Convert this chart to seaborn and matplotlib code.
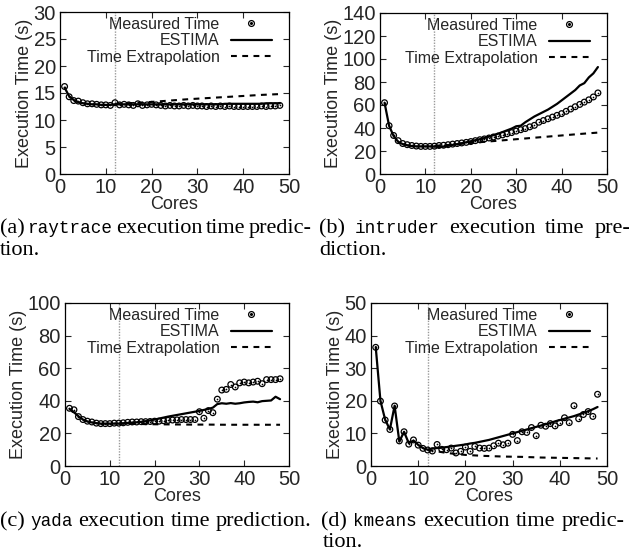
import numpy as np
import pandas as pd
import matplotlib
matplotlib.use("Agg")
import matplotlib.pyplot as plt
import matplotlib.transforms as mtransforms
from matplotlib.lines import Line2D
from matplotlib.legend_handler import HandlerTuple
import seaborn as sns

# ---- data ----
cores = list(range(1, 49))
extrap_cores = [12, 16, 20, 24, 28, 32, 36, 40, 44, 48]

raytrace_measured = [16.2, 14.3, 13.6, 13.5, 13.2, 13.0, 13.0, 12.9, 12.8, 12.8, 12.7, 13.2,
                     12.8, 12.9, 12.8, 12.7, 13.0, 12.7, 12.8, 12.9, 12.8, 12.7, 12.6, 12.7,
                     12.6, 12.6, 12.7, 12.6, 12.7, 12.6, 12.6, 12.5, 12.6, 12.5, 12.6, 12.5,
                     12.6, 12.5, 12.5, 12.5, 12.5, 12.5, 12.5, 12.6, 12.5, 12.6, 12.6, 12.7]
raytrace_estima = [16.0, 14.4, 13.7, 13.3, 13.1, 13.0, 12.9, 12.9, 12.8, 12.8, 12.8, 12.9,
                   12.9, 12.9, 12.9, 12.9, 12.9, 12.9, 12.9, 12.9, 12.9, 12.9, 12.9, 12.9,
                   12.9, 12.9, 12.9, 12.9, 12.9, 12.9, 12.9, 12.9, 12.9, 12.9, 12.9, 13.0,
                   13.0, 13.0, 13.0, 13.0, 13.0, 13.0, 13.0, 13.0, 13.1, 13.1, 13.1, 13.1]
raytrace_extrap = [13.0, 13.15, 13.35, 13.6, 13.85, 14.05, 14.25, 14.45, 14.65, 14.8]

intruder_measured = [62, 42, 33.5, 29, 26.5, 25.5, 24.8, 24.3, 24, 24, 24, 24.2,
                     24.8, 25, 25.5, 26, 26.5, 27, 27.5, 28.2, 29, 29.8, 30.5, 31.3,
                     32.2, 33, 34, 35, 36, 37.3, 38.5, 39.5, 41, 42.3, 45, 46.5,
                     48, 49.5, 51, 52.5, 54.5, 56.5, 58.5, 60.5, 62.5, 64.5, 67, 70.5]
intruder_estima = [62, 42, 33, 28, 26, 25, 24.3, 24, 24, 24, 24, 23.8,
                   23.5, 23.8, 24.5, 25.3, 26, 26.8, 27.6, 28.5, 29.4, 30.3, 31.3, 32.5,
                   33.8, 35, 36.5, 38, 39.5, 41.5, 42, 45, 47.5, 50, 52, 54,
                   56, 58.5, 61, 64, 67, 70, 73, 77, 79, 84, 87.5, 93]
intruder_extrap = [24.5, 25.5, 27, 28.3, 29.6, 30.9, 32.2, 33.5, 34.8, 36]

yada_measured = [35.4, 34.5, 30.3, 28.5, 27.5, 27, 26.3, 26, 26, 26, 26.3, 26.3,
                 26.5, 26.8, 27, 27, 27.2, 27.2, 27.3, 27.5, 27.5, 27.8, 28, 28.2,
                 28.3, 28.5, 28.5, 28.5, 28.5, 33.3, 29.3, 34, 32.7, 41, 46.6, 47,
                 50, 48.5, 51, 51.5, 51, 51.5, 52, 50.5, 53, 53, 53, 53.5]
yada_estima = [35, 33, 30.5, 28.5, 27.3, 26.7, 26.3, 26, 26, 26, 26, 26,
               26.2, 26.4, 26.6, 26.8, 27.1, 27.5, 28, 28.5, 29.1, 29.7, 30.3, 30.8,
               31.3, 31.8, 32.3, 32.8, 33.3, 33.8, 34.4, 35, 35.8, 38, 38.5, 38.2,
               38.6, 38.2, 38.5, 39, 39.3, 39.5, 39.1, 39.8, 40, 40.2, 42.5, 41]
yada_extrap = [26, 25.8, 25.6, 25.5, 25.4, 25.4, 25.3, 25.3, 25.3, 25.3]

kmeans_measured = [36.4, 19.9, 14.1, 11.2, 18.4, 7.7, 10.5, 6.7, 8, 6.4, 5.4, 4.9,
                   4.6, 6.6, 5.1, 5.0, 5.5, 4.0, 4.5, 5.8, 4.5, 6.0, 5.5, 5.4,
                   5.5, 6.2, 7.0, 6.5, 7.0, 9.7, 7.8, 10.5, 10.3, 11.8, 9.3, 12.5,
                   12.2, 13, 12.3, 13.3, 14.8, 13.3, 18.5, 14.5, 15.8, 16.7, 15.2, 22]
kmeans_estima = [36.5, 20, 14.2, 11.2, 18.5, 7.5, 10.5, 7, 7.8, 6.5, 5.5, 5.0,
                 5.4, 5.5, 5.6, 5.8, 6.0, 6.2, 6.4, 6.6, 6.9, 7.1, 7.4, 7.7,
                 8.0, 8.4, 8.8, 9.2, 9.6, 10.0, 10.4, 10.8, 11.2, 11.6, 12.0, 12.4,
                 12.8, 13.2, 13.7, 14.1, 14.5, 14.9, 15.3, 15.8, 16.3, 16.8, 17.4, 18.1]
kmeans_extrap = [5.0, 4.0, 3.4, 3.1, 2.9, 2.8, 2.6, 2.5, 2.4, 2.3]

panels = [
    ("raytrace", raytrace_measured, raytrace_estima, raytrace_extrap, 30, 5),
    ("intruder", intruder_measured, intruder_estima, intruder_extrap, 140, 20),
    ("yada", yada_measured, yada_estima, yada_extrap, 100, 20),
    ("kmeans", kmeans_measured, kmeans_estima, kmeans_extrap, 50, 10),
]

W, H = 632, 552
sns.set_style("ticks")
plt.rcParams["font.family"] = ["Liberation Sans", "DejaVu Sans"]

fig = plt.figure(figsize=(W / 100, H / 100), dpi=100)

# axes boxes in pixels: left, top, right, bottom
boxes = [(60, 12, 289, 174), (380, 13, 607, 174), (65, 303, 289, 466), (371, 303, 607, 466)]

for (name, meas, est, ext, ymax, ystep), (l, t, r, b) in zip(panels, boxes):
    ax = fig.add_axes([l / W, 1 - b / H, (r - l) / W, (b - t) / H])
    df = pd.DataFrame({"cores": cores, "measured": meas, "estima": est})
    dfx = pd.DataFrame({"cores": extrap_cores, "extrap": ext})

    ax.axvline(12, color="#9a9a9a", lw=1.0, ls=(0, (1, 1)), zorder=1)
    sns.lineplot(data=dfx, x="cores", y="extrap", ax=ax, color="black", lw=1.5,
                 zorder=2).lines[-1].set_dashes((2.8, 2.6))
    sns.lineplot(data=df, x="cores", y="estima", ax=ax, color="black", lw=1.6, zorder=3)
    sns.scatterplot(data=df, x="cores", y="measured", ax=ax, marker="o", s=17,
                    facecolor="none", edgecolor="black", linewidth=0.9, zorder=4)
    sns.scatterplot(data=df, x="cores", y="measured", ax=ax, marker="o", s=1.5,
                    color="black", linewidth=0, zorder=5)

    ax.set_xlim(0, 50)
    ax.set_ylim(0, ymax)
    ax.set_xticks(np.arange(0, 51, 10))
    ax.set_yticks(np.arange(0, ymax + 1, ystep))
    ax.tick_params(direction="in", top=True, right=True, length=4, width=0.8,
                   labelsize=14.5, pad=3)
    for s in ax.spines.values():
        s.set_linewidth(0.9)
        s.set_color("black")
    ax.set_xlabel("Cores", fontsize=13, labelpad=-1)
    ax.set_ylabel("Execution Time (s)", fontsize=13, labelpad=0)

    h_meas = (Line2D([], [], ls="none", marker="o", ms=4.2, mfc="none", mec="black", mew=0.9),
              Line2D([], [], ls="none", marker="o", ms=1.2, color="black"))
    h_est = Line2D([], [], color="black", lw=1.6)
    h_ext = Line2D([], [], color="black", lw=1.5, dashes=(2.8, 2.6))
    anchor_x = 1 - 10.5 / (r - l)
    anchor_y = 1 + 1.5 / (b - t)
    ax.legend([h_meas, h_est, h_ext], ["Measured Time", "ESTIMA", "Time Extrapolation"],
              handler_map={tuple: HandlerTuple(ndivide=1)}, loc="upper right",
              bbox_to_anchor=(anchor_x, anchor_y), borderaxespad=0,
              frameon=False, markerfirst=False, fontsize=11.5, handlelength=2.6,
              handletextpad=0.7, labelspacing=0.1)

# ---- captions (serif text with typewriter program names) ----
SERIF = 16
MONO = 12.7
renderer = fig.canvas.get_renderer()


def caption_line(x0, baseline, words, width=None):
    arts = []
    for txt, mono in words:
        arts.append(fig.text(0, 0, txt, transform=mtransforms.IdentityTransform(),
                             family="Liberation Mono" if mono else "Liberation Serif",
                             fontsize=MONO if mono else SERIF, va="baseline", color="black"))
    widths = [a.get_window_extent(renderer).width for a in arts]
    if width is None or len(arts) == 1:
        gap = 0.25 * SERIF * 100 / 72
    else:
        gap = (width - sum(widths)) / (len(arts) - 1)
    x = x0
    for a, w in zip(arts, widths):
        a.set_position((x, H - baseline))
        x += w + gap


caption_line(0, 233, [("(a)", False), ("raytrace", True), ("execution", False),
                      ("time", False), ("predic-", False)], width=312)
caption_line(0, 255, [("tion.", False)])
caption_line(319, 233, [("(b)", False), ("intruder", True), ("execution", False),
                        ("time", False), ("pre-", False)], width=311)
caption_line(319, 255, [("diction.", False)])
caption_line(0, 526, [("(c)", False), ("yada", True), ("execution", False),
                      ("time", False), ("prediction.", False)])
caption_line(321, 526, [("(d)", False), ("kmeans", True), ("execution", False),
                        ("time", False), ("predic-", False)], width=304)
caption_line(323, 547, [("tion.", False)])

fig.savefig("out.png", dpi=100)
